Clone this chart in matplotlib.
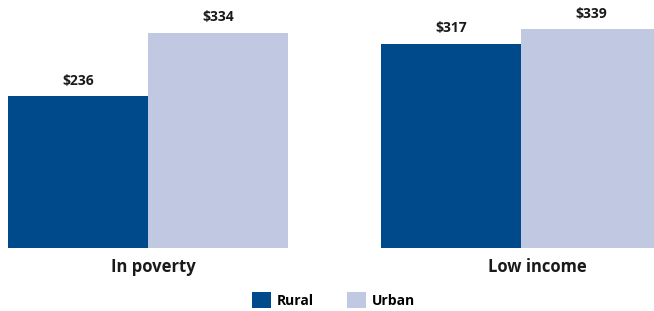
import matplotlib
matplotlib.use("Agg")
import matplotlib.pyplot as plt
import numpy as np

groups = ["In poverty", "Low income"]
series = ["Rural", "Urban"]
rural = [236, 317]
urban = [334, 339]

colors = {"Rural": "#004a8c", "Urban": "#c1c8e2"}

plt.rcParams["font.family"] = ["Open Sans", "DejaVu Sans"]

fig = plt.figure(figsize=(6.54, 3.11), dpi=100)
ax = fig.add_axes([0, 1 - 248 / 311, 1, 248 / 311])

x = np.arange(len(groups))
w = 140 / 373
for i, (name, vals) in enumerate(zip(series, [rural, urban])):
    pos = x + (i - 0.5) * w
    bars = ax.bar(pos, vals, width=w, color=colors[name], label=name, linewidth=0)
    for b, v in zip(bars, vals):
        ax.annotate(f"${v}", (b.get_x() + b.get_width() / 2, v),
                    xytext=(0, 11), textcoords="offset points",
                    ha="center", va="center", fontsize=10, fontweight="bold",
                    color="#1a1a1a")

ax.set_xlim(-148 / 373, 1 + 133 / 373)
ax.set_ylim(0, 248 / 0.645)
ax.axis("off")

# group labels, nudged a little as in the source
label_shift = [5 / 373, 16 / 373]
for xi, g, s in zip(x, groups, label_shift):
    ax.text(xi + s, -19 / 0.645, g, ha="center", va="center",
            fontsize=12, fontweight="bold", color="#1a1a1a")

fig.legend(loc="center", bbox_to_anchor=(333.5 / 654, 1 - 300 / 311),
           ncol=2, frameon=False, prop={"weight": "bold", "size": 10},
           handlelength=1.35, handleheight=1.35, handletextpad=0.4,
           columnspacing=2.4, borderpad=0, borderaxespad=0)

fig.savefig("out.png", dpi=100)
